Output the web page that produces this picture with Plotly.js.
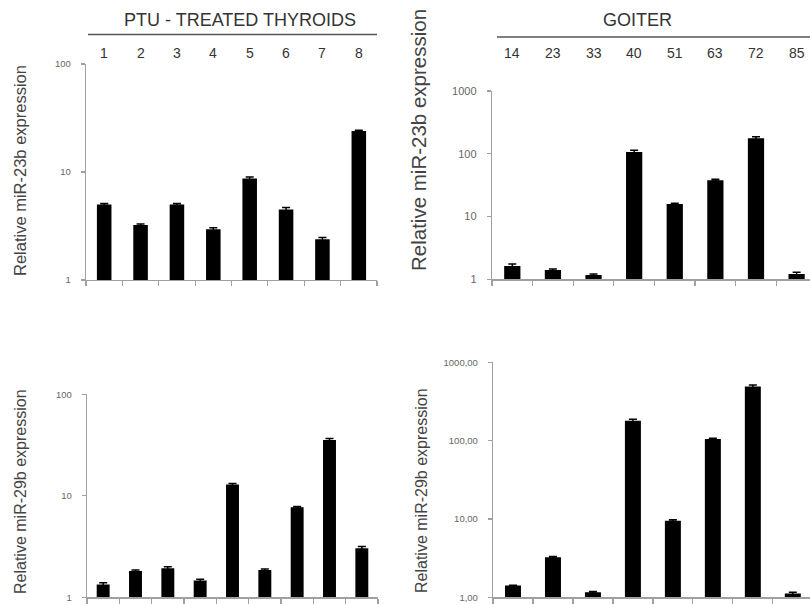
<!DOCTYPE html>
<html>
<head>
<meta charset="utf-8">
<script src="https://cdn.plot.ly/plotly-3.0.1.min.js"></script>
<style>html,body{margin:0;padding:0;background:#fff;}#chart{width:810px;height:605px;}</style>
</head>
<body>
<div id="chart"></div>
<script>
// ---- data ----
const ptuSamples = ['1','2','3','4','5','6','7','8'];
const ptu23b = [5.0, 3.23, 5.0, 2.95, 8.7, 4.5, 2.38, 24.0];
const ptu23bErr = [0.1, 0.07, 0.1, 0.1, 0.3, 0.2, 0.1, 0.4];

const goiterSamples = ['14','23','33','40','51','63','72','85'];
const goiter23b = [1.63, 1.41, 1.17, 107, 15.8, 38, 176, 1.21];
const goiter23bErr = [0.13, 0.05, 0.04, 7, 0.5, 1.2, 11, 0.09];

const ptu29bSamples = ['1','2','3','4','5','6','7','8','9'];
const ptu29b = [1.34, 1.82, 1.93, 1.46, 12.9, 1.86, 7.7, 35.5, 3.04];
const ptu29bErr = [0.05, 0.04, 0.07, 0.05, 0.35, 0.04, 0.15, 1.2, 0.12];

const goiter29b = [1.41, 3.24, 1.16, 180, 9.5, 105, 490, 1.12];
const goiter29bErr = [0.02, 0.08, 0.03, 8, 0.25, 2, 22, 0.04];

const leftTickVals = [1, 10, 100];
const leftTickText = ['1', '10', '100'];
const rightTickVals = [1, 10, 100, 1000];
const rightTickText = ['1', '10', '100', '1000'];
const right2TickText = ['1,00', '10,00', '100,00', '1000,00'];

const ptuTitle = 'PTU - TREATED THYROIDS';
const goiterTitle = 'GOITER';
const yTitle23b = 'Relative miR-23b expression';
const yTitle29b = 'Relative miR-29b expression';

// ---- helpers ----
const W = 810, H = 605;
const px = v => v / W;
const py = v => 1 - v / H;

function barTrace(x, y, err, xa, ya) {
  return {
    type: 'bar', x: x, y: y, xaxis: xa, yaxis: ya,
    width: 0.4,
    marker: {color: '#000', line: {width: 0}},
    error_y: {type: 'data', array: err, visible: true, color: '#000', thickness: 1.5, width: 4},
    hoverinfo: 'skip'
  };
}

const traces = [
  barTrace(ptuSamples, ptu23b, ptu23bErr, 'x', 'y'),
  barTrace(goiterSamples, goiter23b, goiter23bErr, 'x2', 'y2'),
  barTrace(ptu29bSamples, ptu29b, ptu29bErr, 'x3', 'y3'),
  barTrace(goiterSamples, goiter29b, goiter29bErr, 'x4', 'y4')
];

function xAx(domain, range, anchor) {
  return {
    domain: domain, range: range, anchor: anchor, type: 'category',
    showline: true, linecolor: '#a0a0a0', linewidth: 1.2,
    ticks: 'outside', tickson: 'boundaries', ticklen: 5, tickcolor: '#a0a0a0', tickwidth: 1.2,
    showticklabels: false, showgrid: false, zeroline: false, fixedrange: true
  };
}
function yAx(domain, range, anchor, vals, text, fs) {
  return {
    domain: domain, range: range, anchor: anchor, type: 'log',
    showline: true, linecolor: '#a0a0a0', linewidth: 1.2,
    ticks: 'outside', ticklen: 4, tickcolor: '#a0a0a0', tickwidth: 1.2,
    tickvals: vals, ticktext: text, tickfont: {size: fs, color: '#666', family: 'Liberation Sans, Arial, sans-serif'},
    ticklabelstandoff: 8,
    showgrid: false, zeroline: false, fixedrange: true
  };
}

const annotations = [];
ptuSamples.forEach((s, i) => annotations.push({
  xref: 'x', yref: 'paper', x: i, y: py(53), text: s, showarrow: false,
  font: {size: 14, color: '#333'}, xanchor: 'center', yanchor: 'middle'
}));
goiterSamples.forEach((s, i) => annotations.push({
  xref: 'x2', yref: 'paper', x: i, y: py(53), text: s, showarrow: false,
  font: {size: 14, color: '#333'}, xanchor: 'center', yanchor: 'middle'
}));
annotations.push({xref: 'paper', yref: 'paper', x: px(240), y: py(20), text: ptuTitle, showarrow: false,
  font: {size: 18, color: '#333'}, xanchor: 'center', yanchor: 'middle'});
annotations.push({xref: 'paper', yref: 'paper', x: px(637), y: py(20), text: goiterTitle, showarrow: false,
  font: {size: 18, color: '#333'}, xanchor: 'center', yanchor: 'middle'});
annotations.push({xref: 'paper', yref: 'paper', x: px(20), y: py(171), text: yTitle23b, textangle: -90, showarrow: false,
  font: {size: 16.5, color: '#444'}, xanchor: 'center', yanchor: 'middle'});
annotations.push({xref: 'paper', yref: 'paper', x: px(418), y: py(140), text: yTitle23b, textangle: -90, showarrow: false,
  font: {size: 20.5, color: '#444'}, xanchor: 'center', yanchor: 'middle'});
annotations.push({xref: 'paper', yref: 'paper', x: px(20), y: py(492), text: yTitle29b, textangle: -90, showarrow: false,
  font: {size: 16, color: '#444'}, xanchor: 'center', yanchor: 'middle'});
annotations.push({xref: 'paper', yref: 'paper', x: px(421), y: py(490), text: yTitle29b, textangle: -90, showarrow: false,
  font: {size: 16, color: '#444'}, xanchor: 'center', yanchor: 'middle'});

const layout = {
  width: W, height: H,
  margin: {l: 0, r: 0, t: 0, b: 0},
  paper_bgcolor: '#fff', plot_bgcolor: '#fff',
  showlegend: false, hovermode: false,
  font: {family: 'Liberation Sans, Arial, sans-serif', color: '#333'},
  xaxis: xAx([px(86), px(377)], [-0.5, 7.5], 'y'),
  yaxis: yAx([py(280), py(64)], [0, 2], 'x', leftTickVals, leftTickText, 9.5),
  xaxis2: xAx([px(492), 1], [-0.5, 7.33], 'y2'),
  yaxis2: yAx([py(279.3), py(91)], [0, 3], 'x2', rightTickVals, rightTickText, 11),
  xaxis3: xAx([px(87), px(378)], [-0.5, 8.5], 'y3'),
  yaxis3: yAx([py(597.3), py(394.3)], [0, 2], 'x3', leftTickVals, leftTickText, 9.5),
  xaxis4: xAx([px(493), 1], [-0.5, 7.43], 'y4'),
  yaxis4: yAx([py(597.3), py(362.3)], [0, 3], 'x4', rightTickVals, right2TickText, 9.5),
  shapes: [
    {type: 'line', xref: 'paper', yref: 'paper', x0: px(88), x1: px(377), y0: py(34.5), y1: py(34.5),
     line: {color: '#555', width: 1.6}},
    {type: 'line', xref: 'paper', yref: 'paper', x0: px(497), x1: 1, y0: py(37), y1: py(37),
     line: {color: '#555', width: 1.6}}
  ],
  annotations: annotations
};

Plotly.newPlot('chart', traces, layout, {displayModeBar: false, staticPlot: true});
</script>
</body>
</html>
